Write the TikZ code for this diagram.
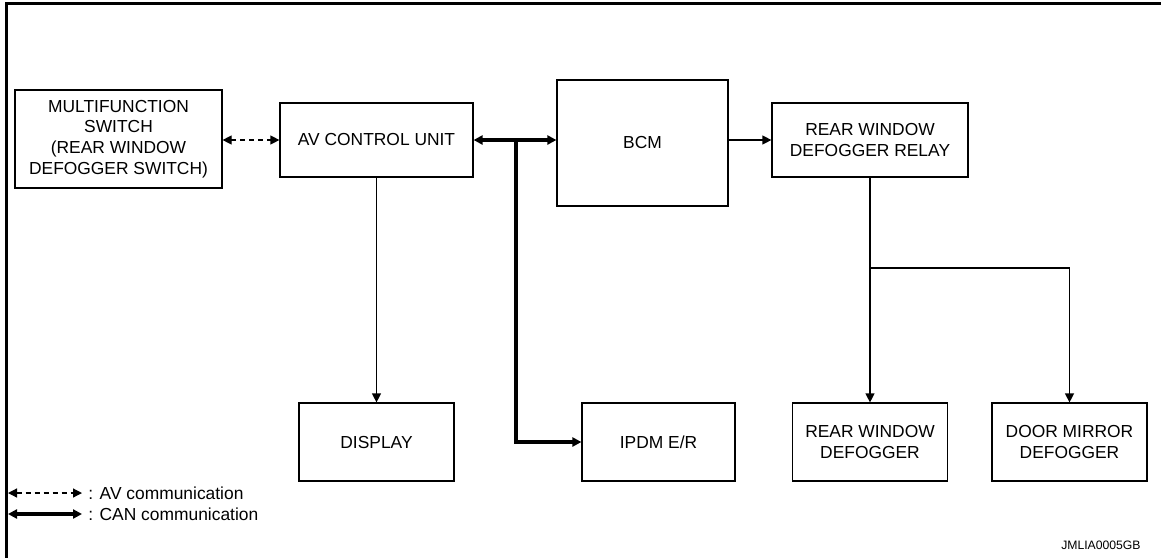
\documentclass[tikz,border=0pt]{standalone}
\usepackage{fontspec}
\setmainfont{Liberation Sans}
\usetikzlibrary{arrows.meta}

\begin{document}
\begin{tikzpicture}[x=0.5pt, y=-0.5pt, font=\fontsize{8.7}{10.4}\selectfont,
    >={Triangle[length=4.5pt,width=4.5pt]},
    unit/.style={draw, line width=0.6pt, align=center, inner sep=0pt, minimum height=39pt},
    wire/.style={line width=0.6pt},
    avcom/.style={line width=0.6pt, dash pattern=on 2.5pt off 2pt},
    can/.style={line width=2pt}]
            \useasboundingbox (0,0) rectangle (1161,558);
            \draw[line width=1.75pt] (1161,3.5) -- (6.5,3.5) -- (6.5,558);

            \node[unit, minimum width=103.5pt, minimum height=49pt] (mfs) at (118.5,139) {MULTIFUNCTION\\SWITCH\\(REAR WINDOW\\DEFOGGER SWITCH)};
            \node[unit, minimum width=96.5pt, minimum height=37pt] (av) at (376.5,140) {AV CONTROL UNIT};
            \node[unit, minimum width=85.5pt, minimum height=63pt] (bcm) at (642.5,143) {BCM};
            \node[unit, minimum width=98pt, minimum height=37pt] (relay) at (870,140) {REAR WINDOW\\DEFOGGER RELAY};
            \node[unit, minimum width=77.5pt] (disp) at (376.5,442) {DISPLAY};
            \node[unit, minimum width=76.5pt] (ipdm) at (658.5,442) {IPDM E/R};
            \node[unit, minimum width=77.5pt] (rwd) at (870,442) {REAR WINDOW\\DEFOGGER};
            \node[unit, minimum width=77.5pt] (dmd) at (1069.5,442) {DOOR MIRROR\\DEFOGGER};

            \coordinate (canj) at (516,140);
            \coordinate (spl) at (870,268);

            \draw[avcom, <->] (av.west -| mfs.east) -- (av.west);
            \draw[can, <->] (av.east) -- (av.east -| bcm.west);
            \draw[can, ->] (canj) |- (ipdm.west);
            \draw[wire, ->] (bcm.east |- relay.west) -- (relay.west);
            \draw[wire, ->] (av.south) -- (disp.north);
            \draw[wire, ->] (relay.south) -- (rwd.north);
            \draw[wire, ->] (spl) -| (dmd.north);

            \coordinate (avl1) at (8,493);
            \coordinate (avl2) at (82,493);
            \coordinate (canl1) at (8,514);
            \coordinate (canl2) at (82,514);
            \node[anchor=west, inner sep=0pt] (avtxt) at (88,493) {: AV communication};
            \node[anchor=west, inner sep=0pt] (cantxt) at (88,514) {: CAN communication};
            \draw[avcom, <->] (avl1) -- (avl2);
            \draw[can, <->] (canl1) -- (canl2);

            \node[anchor=east, inner sep=0pt, font=\fontsize{6.1}{7}\selectfont] (code) at (1141,545) {JMLIA0005GB};
        \end{tikzpicture}
\end{document}
